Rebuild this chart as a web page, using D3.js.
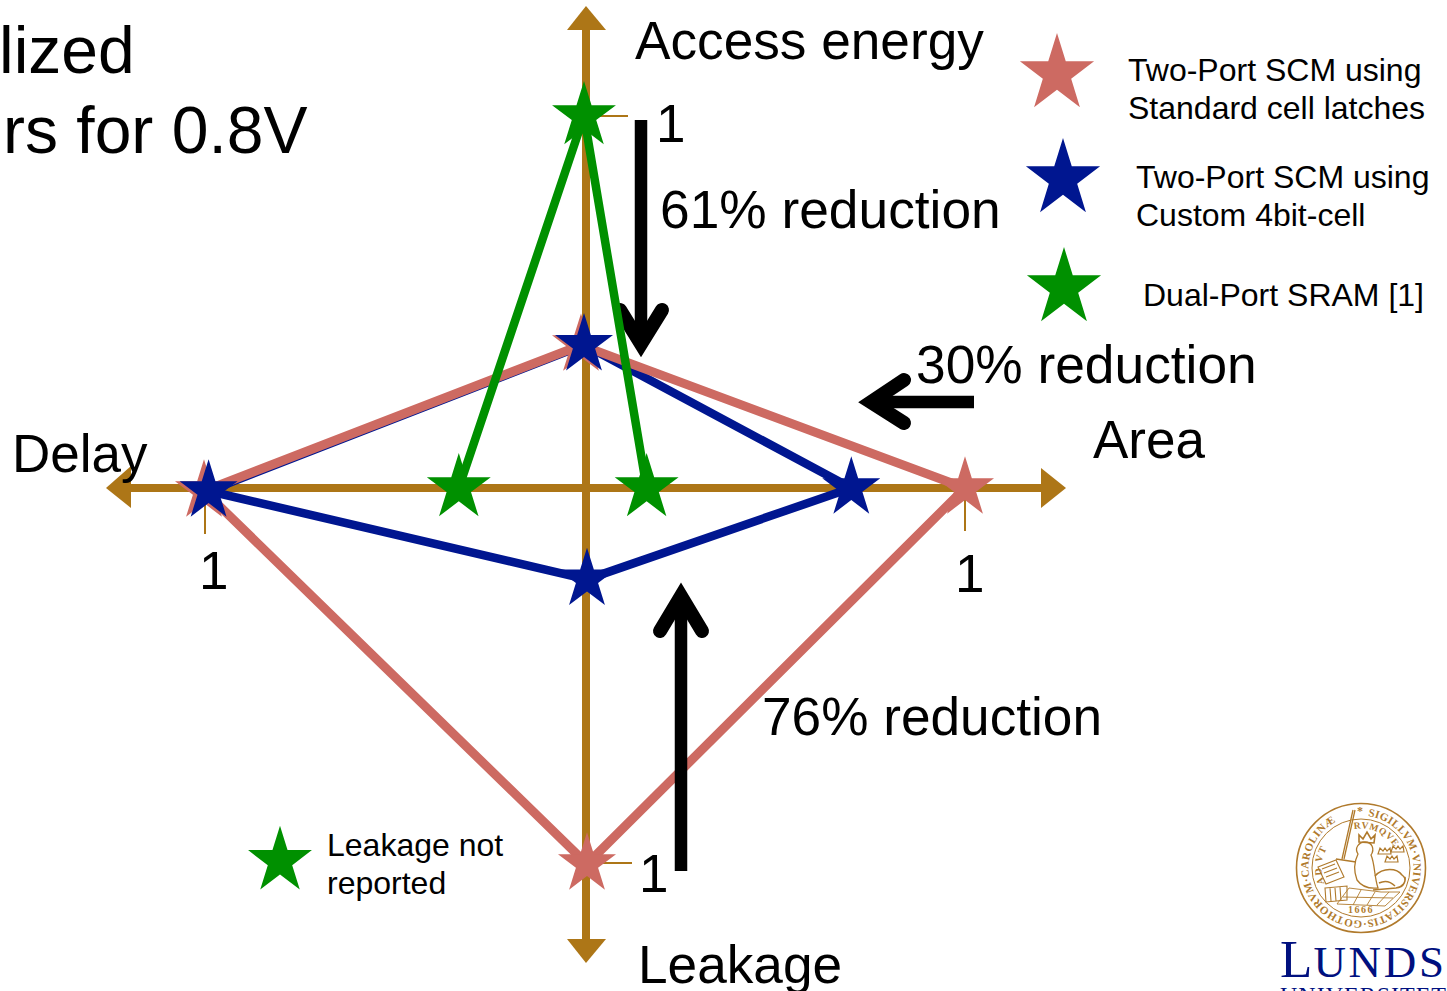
<!DOCTYPE html>
<html>
<head>
<meta charset="utf-8">
<script src="https://cdn.jsdelivr.net/npm/d3@7/dist/d3.min.js"></script>
<style>
html,body{margin:0;padding:0;background:#fff;overflow:hidden}
svg{display:block}
text{font-family:"Liberation Sans",Arial,sans-serif;fill:#000}
</style>
</head>
<body>
<script>
// Normalised figures of merit, each axis scaled so the largest design sits at 1
const axisNames = ["Access energy", "Area", "Leakage", "Delay"];
const seriesNames = ["Two-Port SCM using Standard cell latches", "Two-Port SCM using Custom 4bit-cell", "Dual-Port SRAM [1]"];
const scmLatch = {energy: 0.384, area: 1, leakage: 1, delay: 1};
const scmCustom = {energy: 0.385, area: 0.70, leakage: 0.243, delay: 0.988};
const sram = {energy: 1, area: 0.16, delay: 0.333};
const seriesColors = ["#cd6a62", "#001690", "#009000"];
const tickValue = 1;

const width = 1447, height = 991;
const cx = 586, cy = 488;
const AXIS = "#ad7617";

const xArea = d3.scaleLinear().domain([0, 1]).range([cx, 965]);
const xDelay = d3.scaleLinear().domain([0, 1]).range([cx, 204]);
const yEnergy = d3.scaleLinear().domain([0, 1]).range([cy, 116]);
const yLeak = d3.scaleLinear().domain([0, 1]).range([cy, 864]);

const svg = d3.select("body").append("svg").attr("width", width).attr("height", height);
const defs = svg.append("defs");

// Axes with solid triangular heads
function axisLine(x1, y1, x2, y2) {
  svg.append("line").attr("x1", x1).attr("y1", y1).attr("x2", x2).attr("y2", y2)
    .attr("stroke", AXIS).attr("stroke-width", 8);
}
axisLine(130, cy, 1045, cy);
axisLine(cx, 30, cx, 942);
const heads = [
  [[1066, cy], [1041, 468], [1041, 508]],
  [[106, cy], [131, 466], [131, 508]],
  [[cx, 6], [567, 30], [606, 30]],
  [[cx, 963], [567, 939], [606, 939]]
];
svg.selectAll("path.head").data(heads).join("path").attr("class", "head")
  .attr("d", d => d3.line()(d) + "Z").attr("fill", AXIS);

// Thin tick marks at the value 1 on every axis
const ticks = [
  [cx, yEnergy(tickValue), 628, yEnergy(tickValue)],
  [cx, yLeak(tickValue) - 1, 632, yLeak(tickValue) - 1],
  [xDelay(tickValue) + 1, cy, xDelay(tickValue) + 1, 534],
  [xArea(tickValue), cy, xArea(tickValue), 531]
];
svg.selectAll("line.tick").data(ticks).join("line").attr("class", "tick")
  .attr("x1", d => d[0]).attr("y1", d => d[1]).attr("x2", d => d[2]).attr("y2", d => d[3])
  .attr("stroke", AXIS).attr("stroke-width", 2);

// Thick black arrow: a butt-ended shaft with a round-ended chevron
function blackArrow(shaft, chevron) {
  svg.append("path").attr("d", d3.line()(shaft)).attr("stroke", "#000").attr("stroke-width", 12.5).attr("fill", "none");
  svg.append("path").attr("d", d3.line()(chevron)).attr("stroke", "#000").attr("stroke-width", 14)
    .attr("fill", "none").attr("stroke-linecap", "round").attr("stroke-linejoin", "miter").attr("stroke-miterlimit", 10);
}
// The energy arrow passes under the traces
blackArrow([[641, 120], [641, 345]], [[620, 310], [641, 344], [662, 310]]);

// Per-series offsets keep coincident stars from hiding each other completely
const series = [
  {v: scmCustom, color: seriesColors[1], closed: true, r: 30.5, energyDx: -2, delayDy: 3, width: 8.5},
  {v: scmLatch, color: seriesColors[0], closed: true, r: 30.5, energyDx: -5, delayDy: 3, width: 9},
  {v: sram, color: seriesColors[2], closed: false, r: 33.6, energyDx: -2, delayDy: 0, width: 8.5}
];
function points(s) {
  const p = [
    [xDelay(s.v.delay), cy + s.delayDy],
    [cx + s.energyDx, yEnergy(s.v.energy)],
    [xArea(s.v.area), cy]
  ];
  if (s.v.leakage !== undefined) p.push([cx + 1, yLeak(s.v.leakage)]);
  return p;
}
// Stars are slightly taller than a regular pentagram
const starPath = r => d3.symbol().type(d3.symbolStar).size(r * r / 0.8908130915292852)();
const starStretch = 1.04;

series.forEach(s => {
  const line = d3.line().curve(s.closed ? d3.curveLinearClosed : d3.curveLinear);
  svg.append("path").attr("d", line(points(s))).attr("fill", "none")
    .attr("stroke", s.color).attr("stroke-width", s.width).attr("stroke-linejoin", "round");
});
// Custom-cell stars stay in front of the latch stars
[series[1], series[0], series[2]].forEach(s => {
  svg.selectAll(null).data(points(s)).join("path")
    .attr("d", starPath(s.r)).attr("fill", s.color)
    .attr("transform", d => `translate(${d[0]},${d[1]}) scale(1,${starStretch})`);
});

// The other two arrows lie over the traces
blackArrow([[974, 402], [872, 402]], [[904, 380], [871, 402], [904, 423]]);
blackArrow([[681, 871], [681, 598]], [[660, 631], [681, 596], [702, 631]]);

// Text helper
function label(x, y, str, size) {
  return svg.append("text").attr("x", x).attr("y", y).attr("font-size", size).text(str);
}
// Title fragment at the left edge
label(-1, 73, "lized", 66);
label(3, 153, "rs for 0.8V", 66);

// Axis names
label(635, 59, axisNames[0], 53.2);
label(1093, 458, axisNames[1], 53);
label(638, 983, axisNames[2], 53.2);
label(12, 472, axisNames[3], 53);

// Tick labels
const tickText = String(tickValue);
label(656, 142, tickText, 53);
label(639, 892, tickText, 53);
label(199, 589, tickText, 53);
label(955, 592, tickText, 53);

// Reduction callouts
const reductions = ["61% reduction", "30% reduction", "76% reduction"];
label(660, 228, reductions[0], 53.3);
label(916, 383, reductions[1], 53.3);
label(762, 735, reductions[2], 53.2);

// Legend
const legendStars = [
  {x: 1057, y: 74, color: seriesColors[0], r: 39},
  {x: 1063, y: 179, color: seriesColors[1], r: 39},
  {x: 1064, y: 288, color: seriesColors[2], r: 39},
  {x: 280, y: 861, color: seriesColors[2], r: 33.6}
];
svg.selectAll("path.lstar").data(legendStars).join("path").attr("class", "lstar")
  .attr("d", d => starPath(d.r)).attr("fill", d => d.color)
  .attr("transform", d => `translate(${d.x},${d.y}) scale(1,1.05)`);
label(1128, 81, "Two-Port SCM using", 32);
label(1128, 119, "Standard cell latches", 32);
label(1136, 188, "Two-Port SCM using", 32);
label(1136, 226, "Custom 4bit-cell", 32);
label(1143, 306, seriesNames[2], 32);
label(327, 856, "Leakage not", 32);
label(327, 894, "reported", 32);

// University seal
const GOLD = "#b07a2c", NAVY = "#00107f";
const seal = svg.append("g").attr("transform", "translate(1361,868)");
seal.append("circle").attr("r", 64.5).attr("fill", "none").attr("stroke", GOLD).attr("stroke-width", 1.6);
seal.append("circle").attr("r", 49).attr("fill", "none").attr("stroke", GOLD).attr("stroke-width", 1);
defs.append("path").attr("id", "ringOuter")
  .attr("d", "M7,-52A52.5,52.5 0 1 1 -7,-52");
defs.append("path").attr("id", "ringLeft").attr("d", "M-36.4,15.5A39.5,39.5 0 0 1 -12,-37.6");
defs.append("path").attr("id", "ringRight").attr("d", "M-7,-38.9A39.5,39.5 0 0 1 36.4,-15.5");
const ringStyle = t => t.style("font-family", "Liberation Serif").style("fill", GOLD).attr("font-weight", "bold");
seal.append("text").attr("font-size", 11).call(ringStyle)
  .append("textPath").attr("href", "#ringOuter").attr("textLength", 296).attr("lengthAdjust", "spacing")
  .text("SIGILLVM·VNIVERSITATIS·GOTHORVM·CAROLINÆ");
seal.append("text").attr("x", -1).attr("y", -53).attr("text-anchor", "middle").attr("font-size", 12).call(ringStyle).text("*");
seal.append("text").attr("font-size", 10).attr("letter-spacing", 1.4).call(ringStyle)
  .append("textPath").attr("href", "#ringLeft").text("AD VT");
seal.append("text").attr("font-size", 9.5).attr("letter-spacing", 0.7).call(ringStyle)
  .append("textPath").attr("href", "#ringRight").text("RVMQVE");
seal.append("text").attr("x", 0).attr("y", 45).attr("text-anchor", "middle").attr("font-size", 10)
  .attr("letter-spacing", 1.5).call(ringStyle).text("1666");

// Emblem: sword, lion, book, chest, crowns and tiled floor
const emblem = [
  {d: "M-8,-58L-19,-9M-6,-58L-17,-9M-25,-9L-5,-6", w: 1.3},
  {d: "M-3,-14C-7,-20 -2,-26 4,-26C11,-26 14,-19 10,-13C14,-4 13,8 17,20C8,21 1,19 -4,12C-7,4 -7,-6 -3,-14Z", w: 1.3},
  {d: "M-2,-26L-2,-33L2,-29L6,-36L10,-29L14,-33L13,-25Z", w: 1.6},
  {d: "M14,8C22,-1 36,0 41,7C47,11 43,20 35,20L12,22M35,20C42,19 45,14 44,9M18,15C24,12 30,14 34,18", w: 1.5},
  {d: "M-43,-1L-25,-8L-17,9L-35,16ZM-39,1L-26,-4M-37,5L-24,0M-35,9L-22,4", w: 1.1},
  {d: "M-36,20L-14,18L-14,32L-35,34ZM-31,20L-30,33M-26,20L-25,33M-21,19L-20,33", w: 1.1},
  {d: "M-12,20L20,24L39,24L24,38L-24,36ZM0,22L-8,37M14,24L6,37M28,24L16,37M-18,29L32,30", w: 0.9},
  {d: "M17,-14L19,-20L22,-17L24,-20L26,-17L29,-20L30,-14Z M30,-16L32,-22L35,-19L37,-22L39,-19L42,-22L43,-16Z M24,-6L26,-12L29,-9L31,-12L33,-9L36,-12L37,-6Z", w: 1.2}
];
seal.selectAll("path.em").data(emblem).join("path").attr("class", "em")
  .attr("d", d => d.d).attr("fill", "none").attr("stroke", GOLD).attr("stroke-width", d => d.w);

// University wordmark in small capitals
const word = svg.append("text").attr("x", 1280).attr("y", 977).style("font-family", "Liberation Serif").style("fill", NAVY);
word.append("tspan").attr("font-size", 53).attr("letter-spacing", 1).text("L");
word.append("tspan").attr("font-size", 45).attr("letter-spacing", 2.7).text("UNDS");
svg.append("text").attr("x", 1280).attr("y", 1003).attr("font-size", 24).attr("letter-spacing", 1)
  .style("font-family", "Liberation Serif").style("fill", NAVY).text("UNIVERSITET");
</script>
</body>
</html>
